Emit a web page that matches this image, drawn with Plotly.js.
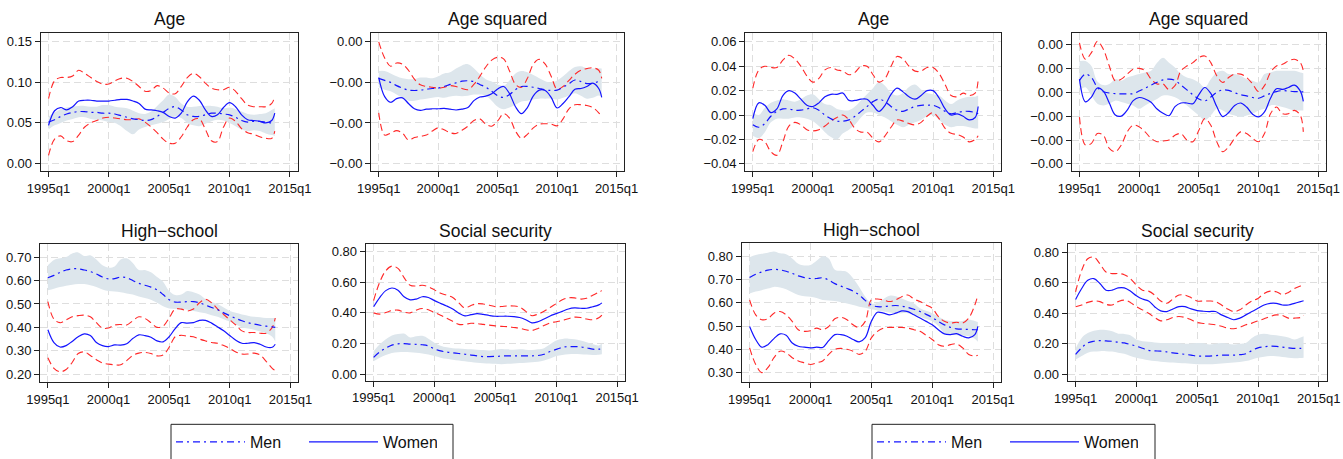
<!DOCTYPE html>
<html>
<head>
<meta charset="utf-8">
<script src="https://cdn.plot.ly/plotly-3.0.1.min.js"></script>
<style>html,body{margin:0;padding:0;background:#fff;}#chart{width:1343px;height:459px;}</style>
</head>
<body>
<div id="chart"></div>
<script>
// ---------------- DATA ----------------
const quarters = [1995.0,1995.5,1996.0,1996.5,1997.0,1997.5,1998.0,1998.5,1999.0,1999.5,2000.0,2000.5,2001.0,2001.5,2002.0,2002.5,2003.0,2003.5,2004.0,2004.5,2005.0,2005.5,2006.0,2006.5,2007.0,2007.5,2008.0,2008.5,2009.0,2009.5,2010.0,2010.5,2011.0,2011.5,2012.0,2012.5,2013.0,2013.5,2013.75];
const xTickVals = [1995, 2000, 2005, 2010, 2015];
const xTickText = ['1995q1', '2000q1', '2005q1', '2010q1', '2015q1'];
const panelTitles = ['Age', 'Age squared', 'High\u2212school', 'Social security', 'Age', 'Age squared', 'High\u2212school', 'Social security'];
const seriesNames = ['Men', 'Women'];

// Left group: Age
const ageL_men = [0.051,0.054,0.058,0.061,0.063,0.064,0.064,0.063,0.063,0.062,0.062,0.061,0.059,0.057,0.055,0.054,0.053,0.054,0.058,0.063,0.068,0.070,0.066,0.060,0.058,0.058,0.060,0.062,0.062,0.061,0.060,0.057,0.053,0.051,0.052,0.052,0.051,0.050,0.049];
const ageL_menHi = [0.058,0.063,0.067,0.069,0.070,0.071,0.071,0.070,0.070,0.072,0.072,0.070,0.069,0.068,0.065,0.062,0.061,0.064,0.071,0.078,0.085,0.082,0.074,0.070,0.070,0.071,0.071,0.071,0.070,0.068,0.069,0.067,0.064,0.061,0.060,0.061,0.062,0.066,0.068];
const ageL_menLo = [0.042,0.047,0.050,0.053,0.055,0.057,0.057,0.055,0.054,0.053,0.051,0.050,0.046,0.040,0.036,0.042,0.045,0.047,0.049,0.051,0.055,0.058,0.056,0.050,0.047,0.046,0.049,0.052,0.054,0.053,0.050,0.046,0.042,0.040,0.041,0.040,0.037,0.035,0.034];
const ageL_women = [0.047,0.065,0.069,0.066,0.070,0.077,0.078,0.078,0.077,0.077,0.077,0.078,0.079,0.079,0.077,0.074,0.067,0.066,0.065,0.063,0.058,0.056,0.062,0.076,0.083,0.078,0.066,0.058,0.060,0.069,0.075,0.070,0.060,0.054,0.053,0.052,0.050,0.053,0.062];
const ageL_womenHi = [0.080,0.102,0.106,0.106,0.108,0.115,0.111,0.106,0.101,0.098,0.098,0.102,0.105,0.105,0.101,0.095,0.089,0.090,0.096,0.093,0.087,0.086,0.095,0.106,0.111,0.107,0.099,0.093,0.091,0.091,0.094,0.089,0.080,0.072,0.070,0.070,0.070,0.074,0.083];
const ageL_womenLo = [0.010,0.030,0.034,0.028,0.027,0.035,0.045,0.050,0.053,0.056,0.057,0.056,0.055,0.054,0.054,0.055,0.051,0.045,0.038,0.030,0.025,0.025,0.033,0.045,0.054,0.055,0.042,0.028,0.027,0.045,0.056,0.052,0.043,0.038,0.036,0.033,0.031,0.031,0.040];
const ageL_ticks = [0, 0.05, 0.10, 0.15];
const ageL_tickText = ['0.00', '0.05', '0.10', '0.15'];

// Left group: Age squared
const agesqL_men = [-0.00090,-0.00095,-0.00100,-0.00108,-0.00114,-0.00119,-0.00120,-0.00119,-0.00117,-0.00115,-0.00114,-0.00110,-0.00105,-0.00101,-0.00097,-0.00096,-0.00098,-0.00105,-0.00112,-0.00122,-0.00133,-0.00137,-0.00130,-0.00118,-0.00110,-0.00110,-0.00112,-0.00115,-0.00118,-0.00120,-0.00119,-0.00112,-0.00103,-0.00094,-0.00098,-0.00103,-0.00102,-0.00098,-0.00098];
const agesqL_menHi = [-0.00072,-0.00072,-0.00078,-0.00085,-0.00090,-0.00092,-0.00092,-0.00088,-0.00088,-0.00090,-0.00085,-0.00078,-0.00075,-0.00066,-0.00058,-0.00055,-0.00065,-0.00080,-0.00092,-0.00098,-0.00105,-0.00108,-0.00095,-0.00078,-0.00072,-0.00075,-0.00082,-0.00090,-0.00097,-0.00100,-0.00095,-0.00085,-0.00072,-0.00062,-0.00060,-0.00065,-0.00066,-0.00065,-0.00066];
const agesqL_menLo = [-0.00112,-0.00118,-0.00122,-0.00130,-0.00138,-0.00145,-0.00145,-0.00142,-0.00140,-0.00138,-0.00136,-0.00138,-0.00135,-0.00133,-0.00134,-0.00133,-0.00130,-0.00130,-0.00133,-0.00145,-0.00160,-0.00166,-0.00162,-0.00155,-0.00147,-0.00145,-0.00142,-0.00140,-0.00140,-0.00140,-0.00142,-0.00138,-0.00133,-0.00127,-0.00133,-0.00140,-0.00138,-0.00132,-0.00135];
const agesqL_women = [-0.00088,-0.00135,-0.00149,-0.00140,-0.00138,-0.00152,-0.00165,-0.00169,-0.00166,-0.00165,-0.00165,-0.00164,-0.00166,-0.00168,-0.00166,-0.00162,-0.00145,-0.00136,-0.00134,-0.00128,-0.00116,-0.00110,-0.00128,-0.00160,-0.00177,-0.00162,-0.00133,-0.00119,-0.00120,-0.00137,-0.00163,-0.00152,-0.00135,-0.00117,-0.00115,-0.00110,-0.00102,-0.00115,-0.00137];
const agesqL_womenHi = [0.00000,-0.00040,-0.00060,-0.00052,-0.00055,-0.00070,-0.00092,-0.00106,-0.00110,-0.00112,-0.00114,-0.00112,-0.00108,-0.00110,-0.00115,-0.00118,-0.00105,-0.00085,-0.00062,-0.00045,-0.00038,-0.00042,-0.00072,-0.00105,-0.00112,-0.00090,-0.00055,-0.00043,-0.00055,-0.00085,-0.00117,-0.00110,-0.00095,-0.00080,-0.00070,-0.00066,-0.00064,-0.00070,-0.00090];
const agesqL_womenLo = [-0.00175,-0.00230,-0.00225,-0.00219,-0.00225,-0.00242,-0.00236,-0.00233,-0.00230,-0.00220,-0.00212,-0.00217,-0.00224,-0.00226,-0.00218,-0.00208,-0.00194,-0.00190,-0.00203,-0.00208,-0.00195,-0.00177,-0.00188,-0.00220,-0.00238,-0.00228,-0.00212,-0.00203,-0.00202,-0.00203,-0.00207,-0.00190,-0.00165,-0.00155,-0.00155,-0.00157,-0.00162,-0.00175,-0.00185];
const agesqL_ticks = [0, -0.001, -0.002, -0.003];
const agesqL_tickText = ['0.00', '\u22120.00', '\u22120.00', '\u22120.00'];

// Left group: High-school
const hsL_men = [0.612,0.622,0.635,0.645,0.650,0.650,0.645,0.638,0.628,0.615,0.607,0.608,0.615,0.612,0.600,0.588,0.580,0.572,0.560,0.540,0.518,0.508,0.508,0.510,0.510,0.505,0.495,0.485,0.475,0.462,0.450,0.438,0.428,0.420,0.414,0.409,0.405,0.402,0.400];
const hsL_menHi = [0.665,0.688,0.695,0.700,0.715,0.720,0.705,0.708,0.690,0.665,0.655,0.660,0.690,0.695,0.675,0.645,0.645,0.635,0.615,0.595,0.555,0.538,0.540,0.555,0.550,0.540,0.520,0.508,0.500,0.485,0.470,0.462,0.455,0.450,0.445,0.443,0.440,0.440,0.440];
const hsL_menLo = [0.558,0.565,0.572,0.578,0.582,0.585,0.585,0.580,0.572,0.562,0.555,0.553,0.550,0.545,0.540,0.532,0.525,0.518,0.505,0.490,0.480,0.478,0.478,0.475,0.470,0.465,0.460,0.452,0.445,0.435,0.425,0.412,0.400,0.395,0.390,0.382,0.375,0.360,0.340];
const hsL_women = [0.390,0.335,0.316,0.322,0.340,0.360,0.372,0.365,0.335,0.322,0.318,0.325,0.324,0.330,0.352,0.368,0.365,0.358,0.342,0.338,0.360,0.395,0.420,0.418,0.420,0.430,0.430,0.418,0.402,0.385,0.365,0.345,0.332,0.332,0.335,0.328,0.316,0.315,0.328];
const hsL_womenHi = [0.510,0.435,0.420,0.432,0.445,0.450,0.452,0.445,0.420,0.397,0.397,0.410,0.412,0.410,0.428,0.445,0.438,0.420,0.400,0.405,0.440,0.478,0.478,0.470,0.478,0.505,0.520,0.505,0.478,0.455,0.432,0.410,0.385,0.378,0.378,0.375,0.375,0.400,0.440];
const hsL_womenLo = [0.270,0.225,0.210,0.220,0.250,0.288,0.295,0.280,0.262,0.248,0.243,0.240,0.240,0.258,0.280,0.290,0.293,0.288,0.278,0.282,0.315,0.360,0.366,0.362,0.360,0.350,0.342,0.335,0.332,0.322,0.310,0.295,0.286,0.286,0.290,0.282,0.255,0.225,0.215];
const hsL_ticks = [0.2, 0.3, 0.4, 0.5, 0.6, 0.7];
const hsL_tickText = ['0.20', '0.30', '0.40', '0.50', '0.60', '0.70'];

// Left group: Social security
const ssL_men = [0.110,0.145,0.170,0.190,0.198,0.200,0.196,0.195,0.192,0.185,0.165,0.152,0.145,0.140,0.135,0.130,0.125,0.120,0.115,0.115,0.116,0.118,0.120,0.120,0.120,0.120,0.120,0.122,0.130,0.148,0.162,0.175,0.180,0.180,0.178,0.172,0.163,0.163,0.165];
const ssL_menHi = [0.150,0.195,0.228,0.252,0.262,0.265,0.240,0.248,0.250,0.232,0.205,0.185,0.175,0.170,0.168,0.165,0.162,0.160,0.158,0.155,0.160,0.165,0.162,0.160,0.162,0.160,0.158,0.162,0.170,0.195,0.220,0.230,0.232,0.228,0.220,0.208,0.195,0.188,0.200];
const ssL_menLo = [0.085,0.108,0.125,0.138,0.143,0.145,0.143,0.140,0.135,0.128,0.118,0.108,0.100,0.095,0.090,0.085,0.080,0.075,0.072,0.070,0.068,0.065,0.068,0.070,0.073,0.075,0.078,0.082,0.090,0.102,0.118,0.125,0.130,0.132,0.130,0.128,0.125,0.127,0.130];
const ssL_women = [0.440,0.500,0.545,0.562,0.548,0.505,0.485,0.490,0.505,0.500,0.480,0.462,0.445,0.425,0.398,0.380,0.388,0.395,0.390,0.383,0.378,0.378,0.378,0.376,0.370,0.355,0.335,0.342,0.360,0.380,0.395,0.410,0.425,0.432,0.430,0.430,0.440,0.452,0.465];
const ssL_womenHi = [0.480,0.600,0.675,0.705,0.690,0.630,0.580,0.575,0.580,0.570,0.550,0.528,0.515,0.500,0.465,0.432,0.448,0.460,0.458,0.450,0.440,0.442,0.445,0.445,0.438,0.410,0.382,0.392,0.410,0.435,0.460,0.485,0.498,0.498,0.490,0.495,0.515,0.535,0.545];
const ssL_womenLo = [0.400,0.392,0.402,0.415,0.418,0.405,0.400,0.418,0.428,0.420,0.402,0.385,0.365,0.345,0.325,0.325,0.332,0.330,0.325,0.320,0.315,0.312,0.310,0.305,0.300,0.290,0.285,0.298,0.318,0.335,0.342,0.350,0.362,0.372,0.370,0.360,0.355,0.368,0.385];
const ssL_ticks = [0, 0.2, 0.4, 0.6, 0.8];
const ssL_tickText = ['0.00', '0.20', '0.40', '0.60', '0.80'];

// Right group: Age
const ageR_men = [-0.008,-0.010,-0.007,-0.001,0.003,0.005,0.005,0.004,0.004,0.005,0.006,0.004,0.000,-0.003,-0.005,-0.005,-0.004,-0.001,0.003,0.007,0.011,0.013,0.011,0.007,0.004,0.003,0.005,0.007,0.008,0.008,0.008,0.006,0.003,0.001,0.002,0.003,0.003,0.002,0.001];
const ageR_menHi = [0.002,0.000,0.006,0.010,0.012,0.013,0.012,0.011,0.013,0.016,0.017,0.013,0.009,0.008,0.005,0.004,0.004,0.007,0.012,0.017,0.022,0.027,0.024,0.018,0.016,0.018,0.023,0.025,0.021,0.018,0.017,0.016,0.012,0.009,0.012,0.014,0.015,0.015,0.016];
const ageR_menLo = [-0.017,-0.019,-0.014,-0.006,-0.003,-0.003,-0.003,-0.002,-0.002,-0.003,-0.005,-0.009,-0.014,-0.018,-0.020,-0.015,-0.012,-0.008,-0.002,0.002,0.002,0.000,-0.002,-0.005,-0.008,-0.010,-0.008,-0.006,-0.004,-0.001,0.000,-0.004,-0.008,-0.010,-0.009,-0.009,-0.010,-0.011,-0.011];
const ageR_women = [-0.003,0.010,0.008,0.002,0.005,0.016,0.020,0.018,0.013,0.008,0.007,0.010,0.015,0.017,0.017,0.018,0.012,0.012,0.013,0.013,0.008,0.003,0.008,0.017,0.022,0.019,0.015,0.013,0.016,0.020,0.020,0.014,0.005,0.000,0.001,-0.001,-0.004,-0.002,0.007];
const ageR_womenHi = [0.022,0.037,0.040,0.039,0.039,0.045,0.049,0.046,0.040,0.032,0.027,0.030,0.037,0.039,0.037,0.036,0.033,0.035,0.040,0.040,0.033,0.027,0.030,0.040,0.048,0.046,0.040,0.036,0.036,0.039,0.039,0.034,0.025,0.016,0.015,0.018,0.016,0.018,0.029];
const ageR_womenLo = [-0.030,-0.020,-0.022,-0.030,-0.033,-0.022,-0.009,-0.006,-0.008,-0.012,-0.013,-0.012,-0.009,-0.005,-0.002,0.000,-0.004,-0.011,-0.014,-0.014,-0.019,-0.022,-0.017,-0.010,-0.004,-0.005,-0.007,-0.008,-0.006,-0.001,0.002,-0.003,-0.011,-0.015,-0.016,-0.018,-0.022,-0.020,-0.017];
const ageR_ticks = [-0.04, -0.02, 0, 0.02, 0.04, 0.06];
const ageR_tickText = ['\u22120.04', '\u22120.02', '0.00', '0.02', '0.04', '0.06'];

// Right group: Age squared
const agesqR_men = [0.00050,0.00076,0.00062,0.00020,0.00002,-0.00003,-0.00006,-0.00007,-0.00007,-0.00006,0.00005,0.00017,0.00030,0.00042,0.00052,0.00055,0.00050,0.00030,0.00010,-0.00010,-0.00028,-0.00036,-0.00020,0.00000,0.00010,0.00008,-0.00002,-0.00010,-0.00015,-0.00022,-0.00025,-0.00015,-0.00005,0.00003,0.00007,0.00005,0.00003,0.00002,0.00002];
const agesqR_menHi = [0.00131,0.00131,0.00110,0.00045,0.00030,0.00035,0.00055,0.00048,0.00062,0.00069,0.00076,0.00083,0.00090,0.00124,0.00145,0.00124,0.00104,0.00076,0.00062,0.00055,0.00041,0.00021,0.00055,0.00083,0.00090,0.00076,0.00076,0.00069,0.00055,0.00048,0.00041,0.00076,0.00083,0.00090,0.00090,0.00090,0.00090,0.00083,0.00080];
const agesqR_menLo = [0.00007,0.00021,-0.00014,-0.00048,-0.00055,-0.00048,-0.00035,-0.00041,-0.00048,-0.00055,-0.00069,-0.00055,-0.00041,-0.00028,-0.00014,-0.00014,-0.00021,-0.00035,-0.00055,-0.00076,-0.00097,-0.00117,-0.00097,-0.00069,-0.00076,-0.00090,-0.00097,-0.00104,-0.00097,-0.00090,-0.00076,-0.00069,-0.00055,-0.00055,-0.00062,-0.00069,-0.00076,-0.00076,-0.00076];
const agesqR_women = [0.00055,-0.00040,-0.00020,0.00018,0.00005,-0.00045,-0.00095,-0.00100,-0.00075,-0.00035,-0.00022,-0.00028,-0.00042,-0.00070,-0.00088,-0.00098,-0.00060,-0.00045,-0.00045,-0.00048,-0.00010,0.00020,-0.00005,-0.00060,-0.00102,-0.00085,-0.00055,-0.00045,-0.00062,-0.00092,-0.00103,-0.00082,-0.00025,0.00015,0.00012,0.00020,0.00030,0.00005,-0.00038];
const agesqR_womenHi = [0.00207,0.00138,0.00166,0.00214,0.00180,0.00110,0.00048,0.00055,0.00076,0.00097,0.00100,0.00090,0.00055,0.00035,0.00035,0.00011,0.00028,0.00090,0.00110,0.00124,0.00145,0.00152,0.00124,0.00069,0.00041,0.00062,0.00076,0.00076,0.00062,0.00035,0.00003,0.00028,0.00083,0.00110,0.00117,0.00131,0.00138,0.00124,0.00090];
const agesqR_womenLo = [-0.00104,-0.00221,-0.00214,-0.00173,-0.00180,-0.00235,-0.00249,-0.00221,-0.00166,-0.00138,-0.00145,-0.00166,-0.00193,-0.00207,-0.00204,-0.00200,-0.00180,-0.00173,-0.00200,-0.00207,-0.00159,-0.00110,-0.00138,-0.00207,-0.00249,-0.00228,-0.00193,-0.00166,-0.00173,-0.00193,-0.00207,-0.00173,-0.00090,-0.00062,-0.00090,-0.00090,-0.00076,-0.00097,-0.00166];
const agesqR_ticks = [0.002, 0.001, 0, -0.001, -0.002, -0.003];
const agesqR_tickText = ['0.00', '0.00', '0.00', '\u22120.00', '\u22120.00', '\u22120.00'];

// Right group: High-school
const hsR_men = [0.708,0.722,0.732,0.740,0.743,0.741,0.735,0.726,0.715,0.708,0.704,0.704,0.707,0.697,0.682,0.671,0.661,0.650,0.633,0.610,0.590,0.583,0.583,0.586,0.588,0.585,0.580,0.572,0.562,0.550,0.537,0.520,0.505,0.494,0.488,0.486,0.485,0.484,0.484];
const hsR_menHi = [0.795,0.805,0.810,0.815,0.820,0.812,0.808,0.790,0.767,0.760,0.762,0.780,0.800,0.790,0.742,0.737,0.732,0.705,0.668,0.626,0.597,0.600,0.616,0.630,0.628,0.618,0.607,0.597,0.576,0.565,0.555,0.541,0.527,0.522,0.520,0.522,0.527,0.522,0.517];
const hsR_menLo = [0.640,0.648,0.654,0.661,0.668,0.665,0.658,0.645,0.633,0.628,0.626,0.620,0.612,0.610,0.607,0.602,0.597,0.590,0.583,0.578,0.572,0.567,0.562,0.558,0.555,0.555,0.555,0.548,0.540,0.530,0.520,0.500,0.470,0.463,0.460,0.458,0.456,0.445,0.432];
const hsR_women = [0.498,0.442,0.409,0.420,0.446,0.466,0.460,0.427,0.413,0.409,0.406,0.409,0.408,0.437,0.463,0.463,0.456,0.442,0.432,0.450,0.520,0.559,0.555,0.548,0.555,0.565,0.562,0.548,0.534,0.520,0.505,0.484,0.466,0.463,0.467,0.456,0.449,0.463,0.498];
const hsR_womenHi = [0.612,0.548,0.527,0.531,0.555,0.562,0.548,0.520,0.484,0.477,0.480,0.491,0.484,0.498,0.531,0.537,0.527,0.505,0.494,0.520,0.612,0.616,0.612,0.605,0.612,0.626,0.633,0.616,0.605,0.590,0.576,0.541,0.520,0.513,0.516,0.513,0.534,0.590,0.633];
const hsR_womenLo = [0.406,0.335,0.300,0.321,0.364,0.392,0.385,0.364,0.350,0.342,0.335,0.342,0.350,0.378,0.400,0.404,0.400,0.392,0.378,0.392,0.449,0.477,0.491,0.494,0.494,0.494,0.491,0.484,0.477,0.460,0.442,0.420,0.413,0.420,0.423,0.406,0.378,0.371,0.375];
const hsR_ticks = [0.3, 0.4, 0.5, 0.6, 0.7, 0.8];
const hsR_tickText = ['0.30', '0.40', '0.50', '0.60', '0.70', '0.80'];

// Right group: Social security
const ssR_men = [0.130,0.173,0.205,0.216,0.220,0.218,0.216,0.210,0.205,0.195,0.184,0.170,0.156,0.153,0.151,0.146,0.140,0.135,0.130,0.125,0.119,0.119,0.119,0.122,0.125,0.125,0.125,0.128,0.134,0.155,0.173,0.180,0.184,0.182,0.177,0.173,0.169,0.169,0.169];
const ssR_menHi = [0.169,0.238,0.270,0.285,0.292,0.290,0.281,0.266,0.264,0.255,0.227,0.216,0.212,0.208,0.205,0.205,0.205,0.203,0.199,0.201,0.205,0.203,0.195,0.200,0.205,0.200,0.195,0.200,0.205,0.238,0.259,0.265,0.259,0.255,0.249,0.240,0.227,0.240,0.249];
const ssR_menLo = [0.097,0.119,0.141,0.148,0.151,0.151,0.148,0.140,0.134,0.120,0.108,0.100,0.091,0.086,0.082,0.079,0.076,0.074,0.072,0.068,0.065,0.065,0.065,0.067,0.070,0.073,0.076,0.080,0.086,0.097,0.108,0.114,0.119,0.117,0.112,0.108,0.104,0.106,0.108];
const ssR_women = [0.490,0.562,0.616,0.627,0.595,0.551,0.551,0.566,0.566,0.545,0.515,0.493,0.480,0.443,0.415,0.411,0.428,0.443,0.443,0.428,0.417,0.413,0.411,0.411,0.389,0.372,0.357,0.368,0.389,0.411,0.432,0.454,0.465,0.465,0.454,0.454,0.465,0.476,0.482];
const ssR_womenHi = [0.540,0.681,0.757,0.768,0.724,0.670,0.660,0.660,0.653,0.627,0.584,0.551,0.545,0.519,0.480,0.465,0.493,0.519,0.519,0.502,0.480,0.480,0.480,0.476,0.454,0.428,0.411,0.422,0.454,0.480,0.497,0.530,0.545,0.541,0.523,0.536,0.562,0.579,0.588];
const ssR_womenLo = [0.443,0.454,0.471,0.480,0.476,0.458,0.454,0.476,0.486,0.471,0.443,0.422,0.400,0.372,0.350,0.357,0.372,0.378,0.372,0.357,0.339,0.333,0.329,0.324,0.314,0.303,0.298,0.307,0.324,0.335,0.350,0.363,0.378,0.389,0.385,0.368,0.368,0.372,0.385];
const ssR_ticks = [0, 0.2, 0.4, 0.6, 0.8];
const ssR_tickText = ['0.00', '0.20', '0.40', '0.60', '0.80'];

// ---------------- LAYOUT / DRAW ----------------
const W = 1343, H = 459;
const FONT = 'Liberation Sans, Arial, Helvetica, sans-serif';
const BLUE = 'rgb(20,20,255)';
const RED = 'rgb(255,40,40)';
const BAND = 'rgb(221,230,236)';

const panels = [
  {px:[40.7,297.7], py:[33.3,173.3], yr:[-0.0098,0.161], tv:ageL_ticks, tt:ageL_tickText, title:panelTitles[0],
   d:[ageL_men,ageL_menLo,ageL_menHi,ageL_women,ageL_womenLo,ageL_womenHi], leg:'legend'},
  {px:[371,624.3], py:[33.3,173.3], yr:[-0.003195,0.00022], tv:agesqL_ticks, tt:agesqL_tickText, title:panelTitles[1],
   d:[agesqL_men,agesqL_menLo,agesqL_menHi,agesqL_women,agesqL_womenLo,agesqL_womenHi]},
  {px:[40,298.3], py:[246.7,386.7], yr:[0.1645,0.756], tv:hsL_ticks, tt:hsL_tickText, title:panelTitles[2],
   d:[hsL_men,hsL_menLo,hsL_menHi,hsL_women,hsL_womenLo,hsL_womenHi]},
  {px:[365.7,625], py:[246.7,385], yr:[-0.043,0.849], tv:ssL_ticks, tt:ssL_tickText, title:panelTitles[3],
   d:[ssL_men,ssL_menLo,ssL_menHi,ssL_women,ssL_womenLo,ssL_womenHi]},
  {px:[745,1001], py:[33.3,173.3], yr:[-0.0462,0.0673], tv:ageR_ticks, tt:ageR_tickText, title:panelTitles[4],
   d:[ageR_men,ageR_menLo,ageR_menHi,ageR_women,ageR_womenLo,ageR_womenHi], leg:'legend2'},
  {px:[1071.7,1326], py:[33.3,173.3], yr:[-0.003315,0.002485], tv:agesqR_ticks, tt:agesqR_tickText, title:panelTitles[5],
   d:[agesqR_men,agesqR_menLo,agesqR_menHi,agesqR_women,agesqR_womenLo,agesqR_womenHi]},
  {px:[741.7,1001], py:[246,386.7], yr:[0.2575,0.855], tv:hsR_ticks, tt:hsR_tickText, title:panelTitles[6],
   d:[hsR_men,hsR_menLo,hsR_menHi,hsR_women,hsR_womenLo,hsR_womenHi]},
  {px:[1067.7,1326.7], py:[246.7,385.7], yr:[-0.048,0.854], tv:ssR_ticks, tt:ssR_tickText, title:panelTitles[7],
   d:[ssR_men,ssR_menLo,ssR_menHi,ssR_women,ssR_womenLo,ssR_womenHi]}
];

const traces = [];
const legendStyle = {xanchor: 'left', yanchor: 'top', orientation: 'h',
  borderwidth: 0, bgcolor: 'rgba(0,0,0,0)', font: {size: 16, family: FONT, color: '#111'},
  itemwidth: 69, entrywidth: 49, entrywidthmode: 'pixels', traceorder: 'normal'};
const layout = {
  width: W, height: H,
  margin: {l:0, r:0, t:0, b:0},
  paper_bgcolor: '#fff', plot_bgcolor: '#fff',
  font: {family: FONT, color: '#111', size: 13},
  showlegend: true,
  annotations: [],
  shapes: [
    {type: 'rect', xref: 'paper', yref: 'paper', x0: 171/W, x1: 453/W, y0: -0.05, y1: 1 - 429/H,
     line: {color: '#222', width: 1}, fillcolor: '#fff', layer: 'below'},
    {type: 'rect', xref: 'paper', yref: 'paper', x0: 872/W, x1: 1155/W, y0: -0.05, y1: 1 - 429/H,
     line: {color: '#222', width: 1}, fillcolor: '#fff', layer: 'below'}
  ],
  legend: Object.assign({x: 171/W, y: 1 - 430/H}, legendStyle),
  legend2: Object.assign({x: 872/W, y: 1 - 430/H}, legendStyle)
};

panels.forEach((p, i) => {
  const n = i === 0 ? '' : String(i + 1);
  const xa = 'x' + n, ya = 'y' + n;
  const [men, menLo, menHi, women, womenLo, womenHi] = p.d;
  const common = {x: quarters, xaxis: xa, yaxis: ya, mode: 'lines', hoverinfo: 'skip'};
  const sp = {shape: 'spline', smoothing: 1};
  traces.push(Object.assign({}, common, {y: menLo, line: Object.assign({width: 0, color: BAND}, sp), showlegend: false}));
  traces.push(Object.assign({}, common, {y: menHi, line: Object.assign({width: 0, color: BAND}, sp), fill: 'tonexty', fillcolor: BAND, showlegend: false}));
  traces.push(Object.assign({}, common, {y: womenHi, line: Object.assign({width: 1.1, color: RED, dash: '7px,4px'}, sp), showlegend: false}));
  traces.push(Object.assign({}, common, {y: womenLo, line: Object.assign({width: 1.1, color: RED, dash: '7px,4px'}, sp), showlegend: false}));
  const menT = Object.assign({}, common, {y: men, name: seriesNames[0], legendrank: 1, line: Object.assign({width: 1.2, color: BLUE, dash: '7px,4px,2px,4px'}, sp), showlegend: !!p.leg});
  const womenT = Object.assign({}, common, {y: women, name: seriesNames[1], legendrank: 2, line: Object.assign({width: 1.2, color: BLUE}, sp), showlegend: !!p.leg});
  if (p.leg) { menT.legend = p.leg; womenT.legend = p.leg; }
  traces.push(womenT);
  traces.push(menT);

  const axCommon = {showline: true, mirror: true, linecolor: '#222', linewidth: 1,
    ticks: 'outside', ticklen: 5, tickcolor: '#222', tickwidth: 1,
    showgrid: true, gridcolor: 'rgb(222,222,222)', gridwidth: 1, griddash: '7px,4px',
    zeroline: false, tickfont: {size: 13, family: FONT, color: '#111'}, fixedrange: true};
  layout['xaxis' + n] = Object.assign({}, axCommon, {
    domain: [p.px[0]/W, p.px[1]/W], anchor: ya, range: [1994.35, 2015.65],
    tickmode: 'array', tickvals: xTickVals, ticktext: xTickText});
  layout['yaxis' + n] = Object.assign({}, axCommon, {
    domain: [1 - p.py[1]/H, 1 - p.py[0]/H], anchor: xa, range: p.yr,
    tickmode: 'array', tickvals: p.tv, ticktext: p.tt});
  layout.annotations.push({text: p.title, xref: 'paper', yref: 'paper',
    x: (p.px[0] + p.px[1]) / 2 / W, y: 1 - (p.py[0] - 1.5) / H, xanchor: 'center', yanchor: 'bottom',
    showarrow: false, font: {size: 17.5, family: FONT, color: '#111'}});
});

Plotly.newPlot('chart', traces, layout, {staticPlot: true, displayModeBar: false});
</script>
</body>
</html>
